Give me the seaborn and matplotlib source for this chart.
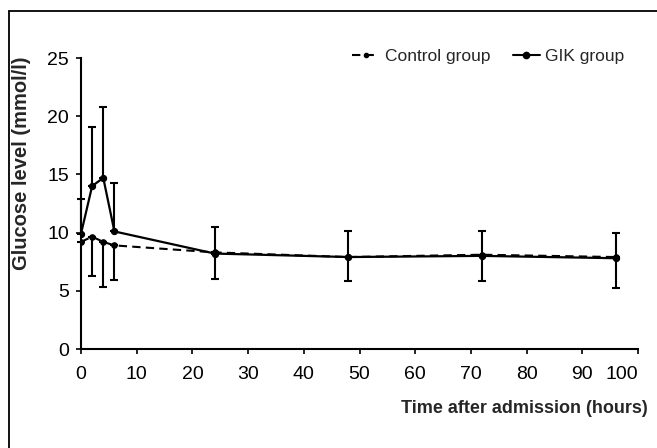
import numpy as np
import pandas as pd
import seaborn as sns
import matplotlib.pyplot as plt
from matplotlib.lines import Line2D

# -------------------- Data --------------------

hours = [0, 2, 4, 6, 24, 48, 72, 96]
control_mean = [9.2, 9.65, 9.2, 8.9, 8.3, 7.9, 8.1, 7.9]
control_lower = [np.nan, 6.3, 5.3, 5.9, 6.0, 5.8, 5.8, 5.2]
gik_mean = [9.9, 14.0, 14.7, 10.1, 8.2, 7.9, 8.0, 7.8]
gik_upper = [12.9, 19.05, 20.8, 14.3, 10.5, 10.1, 10.1, 10.0]

control = pd.DataFrame({'hours': hours, 'glucose': control_mean})
gik = pd.DataFrame({'hours': hours, 'glucose': gik_mean})


# -------------------- Plot --------------------

def main():
    sns.set_style('ticks')
    plt.rcParams['font.family'] = ['Liberation Sans', 'DejaVu Sans']

    fig = plt.figure(figsize=(6.57, 4.48), dpi=100)
    ax = fig.add_axes([81 / 657, 1 - 349 / 448, (638 - 81) / 657, (349 - 58) / 448])

    sns.lineplot(data=control, x='hours', y='glucose', color='black', linewidth=1.5,
                 linestyle=(0, (4, 2.5)), marker='o', markersize=4,
                 markeredgecolor='black', ax=ax)
    sns.lineplot(data=gik, x='hours', y='glucose', color='black', linewidth=1.6,
                 linestyle='-', marker='o', markersize=4.5,
                 markeredgecolor='black', ax=ax)

    # one-sided error bars: GIK upward, control downward
    gik_err = [np.zeros(len(hours)), np.array(gik_upper) - np.array(gik_mean)]
    ctl_err = [np.array(control_mean) - np.array(control_lower), np.zeros(len(hours))]
    ax.errorbar(hours, gik_mean, yerr=gik_err, fmt='none', ecolor='black',
                elinewidth=1.5, capsize=3, capthick=1.5, clip_on=False)
    ax.errorbar(hours, control_mean, yerr=ctl_err, fmt='none', ecolor='black',
                elinewidth=1.5, capsize=3, capthick=1.5, clip_on=False)

    ax.set_xlim(0, 100)
    ax.set_ylim(0, 25)
    ax.set_xticks(range(0, 101, 10))
    ax.set_yticks(range(0, 26, 5))
    ax.tick_params(labelsize=14, length=3.5, width=1.2, color='black', labelcolor='black')
    ax.tick_params(axis='x', pad=9)
    ax.tick_params(axis='y', pad=5)
    ax.get_xticklabels()[-1].set_horizontalalignment('right')
    sns.despine(ax=ax)
    for s in ('left', 'bottom'):
        ax.spines[s].set_linewidth(1.5)
        ax.spines[s].set_color('black')

    bold = dict(fontweight='bold', family=['Liberation Sans Narrow', 'Liberation Sans', 'DejaVu Sans'])
    ax.set_ylabel('Glucose level (mmol/l)', fontsize=14.5, **bold)
    ax.yaxis.set_label_coords(-0.09, 0.64)
    ax.set_xlabel('Time after admission (hours)', fontsize=13, **bold)
    ax.xaxis.set_label_coords(1.018, -0.175)
    ax.xaxis.label.set_horizontalalignment('right')

    handles = [
        Line2D([], [], color='black', linestyle=(0, (4, 2.5)), marker='o', markersize=3, linewidth=1.5),
        Line2D([], [], color='black', linestyle='-', marker='o', markersize=4.5, linewidth=1.5),
    ]
    ax.legend(handles, ['Control group', 'GIK group'], ncol=2, frameon=False,
              loc='upper right', bbox_to_anchor=(1.003, 1.085), fontsize=12.5,
              handlelength=1.55, handletextpad=0.3, columnspacing=1.3)

    # frame lines (left and top) around the figure
    fig.add_artist(Line2D([9 / 657, 9 / 657], [0, 1 - 11 / 448], transform=fig.transFigure,
                          color='black', linewidth=1.3))
    fig.add_artist(Line2D([9 / 657, 1], [1 - 11 / 448, 1 - 11 / 448], transform=fig.transFigure,
                          color='black', linewidth=1.3))

    fig.savefig('out.png', dpi=100)


if __name__ == '__main__':
    main()
